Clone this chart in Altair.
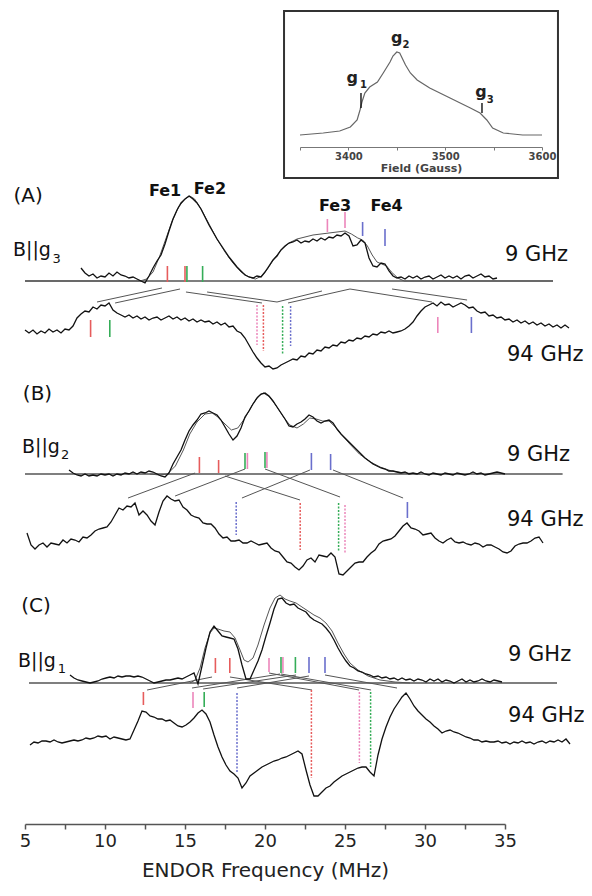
import altair as alt
import pandas as pd

# ---------------- data ----------------
# ENDOR spectra on uniform frequency grids: (start MHz, step MHz); intensities in arbitrary units
A9_GRID = (8.5, 0.25)
A9_EXP = [13, 8, 5, 7, 3, 5, 4, 8, 5, 9, 6, 5, 3, 4, 2, 0, -2, 5, 13, 20,
          26, 37, 50, 62, 71, 78, 82, 85, 82, 78, 72, 64, 56, 49, 42, 36, 30, 24, 19, 14,
          10, 6, 4, 3, 5, 4, 9, 15, 21, 25, 31, 35, 38, 39, 41, 38, 40, 39, 42, 40,
          43, 41, 44, 43, 46, 45, 48, 45, 35, 36, 41, 38, 23, 15, 14, 18, 17, 10, 5, 3,
          4, 2, 5, 3, 5, 2, 4, 5, 2, 4, 6, 3, 5, 3, 5, 2, 5, 6, 3, 5, 7, 4, 5, 2, 3]
A94_GRID = (5.0, 0.25)
A94_EXP = [0, -3, 0, -4, -1, -3, 1, -2, 0, -3, 1, 0, 4, 12, 16, 19, 18, 23, 21, 25,
           24, 27, 20, 17, 15, 13, 15, 12, 14, 11, 13, 10, 12, 13, 10, 12, 14, 11, 13, 10,
           12, 9, 11, 8, 10, 8, 9, 6, 8, 5, 7, 3, 4, -1, -3, -8, -15, -22, -28, -33,
           -37, -36, -39, -38, -35, -33, -31, -29, -30, -26, -27, -23, -24, -20, -21, -17, -18, -15, -16, -12,
           -13, -10, -11, -8, -9, -6, -7, -4, -5, -2, -3, -1, -3, -2, -1, 1, 4, 8, 14, 19,
           23, 25, 27, 24, 28, 25, 26, 23, 25, 27, 25, 22, 23, 19, 17, 18, 14, 15, 12, 13,
           10, 11, 8, 10, 7, 9, 6, 8, 5, 7, 4, 6, 3, 5, 2, 5, 2]
B9_GRID = (7.75, 0.25)
B9_EXP = [4, 1, -1, -2, 0, -2, -1, -2, 0, -1, 0, -2, 0, -1, 1, 0, 2, 0, 2, 1,
          3, 2, 0, -2, -3, 1, 10, 17, 24, 34, 43, 49, 54, 60, 61, 63, 61, 59, 54, 47,
          40, 34, 38, 46, 57, 63, 70, 76, 80, 81, 78, 73, 67, 61, 55, 48, 47, 50, 52, 55,
          59, 57, 53, 51, 53, 54, 51, 45, 40, 36, 32, 28, 24, 20, 16, 13, 10, 8, 6, 5,
          3, 3, 2, 1, 2, 0, 1, 0, 2, 0, -1, 1, 0, -1, 1, 0, -1, 1, 0, -1,
          0, 2, 0, 1, -1, 0, 1, 2, 1, 0]
B94_GRID = (5.125, 0.25)
B94_EXP = [7, -5, -9, -5, -3, -7, -3, -4, -5, 0, -3, 1, 0, -2, 3, 2, 5, 9, 11, 12,
           13, 18, 25, 32, 30, 34, 33, 37, 25, 29, 25, 19, 15, 28, 39, 44, 41, 39, 40, 33,
           30, 25, 23, 22, 17, 16, 16, 12, 6, 2, 3, -1, -1, 0, -3, -3, -1, -3, -5, -4,
           -3, -8, -11, -12, -17, -22, -23, -27, -30, -26, -20, -18, -22, -15, -16, -17, -13, -17, -34, -35,
           -31, -27, -23, -22, -22, -17, -13, -10, -4, -1, 0, 1, 4, 9, 14, 17, 12, 11, 9, 5,
           6, 7, 2, -1, -3, 0, 2, -2, -3, -2, -4, -5, -3, -4, -7, -5, -5, -7, -9, -12,
           -13, -11, -6, -4, -3, -3, -1, 2, 3, -3]
C9_GRID = (7.8125, 0.25)
C9_EXP = [8, 5, 3, 2, 1, 0, 1, 2, 4, 5, 6, 5, 7, 6, 7, 7, 6, 7, 6, 4,
          2, 0, 1, 2, 3, 3, 4, 5, 4, 6, 8, 10, -1, 17, 35, 51, 57, 52, 47, 46,
          45, 44, 34, 18, 4, 4, 13, 22, 33, 47, 60, 74, 84, 85, 80, 78, 79, 75, 73, 71,
          66, 63, 61, 59, 55, 50, 43, 35, 28, 22, 17, 15, 12, 11, 9, 8, 6, 7, 5, 6,
          4, 5, 3, 5, 3, 4, 2, 4, 3, 1, 4, 2, 4, 1, 3, 2, 0, 2, 4, 1,
          3, 1, 2, 4, 2, 1, 3, 2, 1]
C94_GRID = (5.3125, 0.25)
C94_EXP = [-5, -2, -3, -1, -1, -2, 0, -2, -3, -2, -1, 0, -1, 0, 2, 1, 2, 4, 3, 4,
           1, 3, 2, 1, 0, 1, 10, 19, 29, 28, 24, 23, 21, 21, 19, 20, 17, 14, 13, 15,
           18, 22, 27, 30, 26, 18, 5, -7, -17, -25, -31, -34, -38, -48, -43, -36, -33, -30, -27, -25,
           -23, -21, -20, -18, -17, -15, -13, -11, -14, -30, -45, -56, -56, -52, -48, -46, -42, -39, -36, -34,
           -32, -30, -28, -27, -27, -32, -36, -15, 1, 13, 23, 31, 37, 43, 47, 41, 34, 29, 25, 21,
           18, 14, 11, 7, 9, 10, 8, 7, 5, 3, 2, 0, 0, -2, -1, -2, -2, -1, -3, -2,
           -4, -2, -3, -1, -3, -2, -4, -2, -1, -3, -1, -2, 0, -2, 1, -4]

# simulated 9 GHz spectra (MHz, intensity)
SIM_A_F = [5.0, 12.2, 12.6, 13.0, 13.4, 13.8, 14.2, 14.6, 15.0, 15.3, 15.6, 16.0, 16.5, 17.0, 17.5,
           18.0, 18.5, 19.0, 19.4, 19.8, 20.2, 20.6, 21.0, 21.5, 22.0, 22.5, 23.0, 23.5, 24.0, 24.5,
           25.0, 25.4, 25.8, 26.1, 26.4, 26.7, 27.0, 27.3, 27.6, 27.9, 28.3, 28.7, 38.0]
SIM_A_I = [0, 0, 2, 9, 24, 42, 60, 74, 82, 85, 82, 72, 57, 42, 29, 18, 9, 4, 2, 5,
           13, 23, 31, 38, 42, 44, 46, 47, 48, 49, 50, 47, 43, 41, 35, 26, 19, 17, 15, 9, 3, 0, 0]
SIM_B_F = [12.8, 13.4, 13.9, 14.4, 14.9, 15.3, 15.75, 16.25, 16.7, 17.05, 17.5, 17.9, 18.3, 18.75, 19.2,
           19.6, 19.9, 20.3, 20.75, 21.2, 21.55, 22.0, 22.4, 22.8, 23.2, 23.6, 24.0, 24.4, 24.8, 25.3,
           25.9, 26.6, 27.2, 27.9, 28.75, 29.7]
SIM_B_I = [0, -1, 0, 8, 24, 40, 52, 60, 61, 57, 50, 44, 46, 56, 69, 78, 81, 77, 67, 56,
           49, 46, 50, 56, 55, 53, 53, 47, 39, 30, 20, 12, 7, 3, 1, 0]
SIM_C_F = [15.31, 15.63, 15.94, 16.25, 16.56, 16.81, 17.06, 17.44, 17.81, 18.13, 18.44, 18.69, 18.94, 19.25,
           19.56, 19.94, 20.31, 20.63, 20.94, 21.25, 21.56, 21.94, 22.31, 22.69, 23.06, 23.44, 23.81,
           24.19, 24.56, 24.94, 25.31, 25.81, 26.44, 27.19, 28.13, 29.06]
SIM_C_I = [0, 3, 15, 35, 50, 55, 54, 52, 51, 45, 33, 23, 21, 25, 38, 58, 75, 85, 88, 84,
           82, 80, 76, 72, 68, 65, 60, 52, 40, 29, 20, 13, 7, 3, 1, 0]

# inset: EPR absorption (Gauss, intensity)
EPR_FIELD = [3350, 3374, 3391, 3402, 3409, 3412, 3414, 3417, 3422, 3430, 3436, 3443, 3446, 3450,
             3453, 3459, 3464, 3471, 3484, 3505, 3526, 3536, 3543, 3549, 3560, 3580, 3600]
EPR_I = [0, 2, 4, 8, 15, 25, 33, 42, 48, 53, 62, 73, 79, 83, 82, 70, 62, 55, 47, 37,
         27, 22, 15, 7, 2, 0, 0]
G_LABELS = ["1", "2", "3"]
G_FIELD = [3404, 3450, 3537]
G_MARK_FIELD = [3413, 3538]

# predicted stick positions (MHz) and their Fe site colour
STICK_F = [13.9, 15.0, 15.12, 16.1, 23.9, 25.0, 26.1, 27.5,
           9.1, 10.3, 30.8, 32.9,
           15.9, 17.1, 18.75, 18.9, 20.0, 20.12, 22.9, 24.1,
           28.9,
           16.9, 17.8, 20.25, 21.0, 21.12, 21.9, 22.75, 23.75,
           12.4, 15.5, 16.2]
STICK_SITE = ["r", "r", "g", "g", "p", "p", "b", "b",
              "r", "g", "p", "b",
              "r", "r", "g", "p", "g", "p", "b", "b",
              "b",
              "r", "r", "p", "g", "p", "g", "b", "b",
              "r", "p", "g"]
DASH_F = [19.5, 19.9, 21.1, 21.6, 18.2, 22.2, 24.6, 25.0, 18.25, 22.9, 25.9, 26.6]
DASH_SITE = ["p", "r", "g", "b", "b", "r", "g", "p", "b", "r", "p", "g"]
# correlation lines between 9 GHz and 94 GHz positions (MHz)
LINK_F1 = [9.5, 10.63, 15.06, 16.38, 20.75, 21.44, 25.31, 27.94,
           11.44, 14.38, 17.5, 20.0, 18.56, 24.25,
           12.63, 15.44, 16.13, 17.81, 18.25, 20.25, 21.0, 23.75]
LINK_F2 = [13.56, 14.69, 19.81, 20.75, 23.56, 25.31, 30.44, 32.63,
           15.63, 18.75, 22.19, 24.69, 22.81, 28.63,
           16.69, 20.94, 21.94, 22.94, 22.75, 25.88, 26.63, 28.25]

# ---------------- layout / style ----------------
TOP = 8


def py(page_y):
    return page_y - TOP


BASE = {"A9": 281, "A94": 330, "B9": 474, "B94": 540, "C9": 683, "C94": 740, "EPR": 135}
BASELINE_SPAN = [("A9", 5.0, 38.0), ("B9", 5.0, 38.6), ("C9", 5.25, 38.25)]
STICK_SPAN = ([(266, 282)] * 4 + [(219, 232), (212, 228), (222, 236), (229, 246)]
              + [(320, 337), (320, 337), (317, 333), (317, 333)]
              + [(457, 473), (460, 473), (453, 469), (453, 469), (452, 468), (452, 468), (453, 470), (454, 470)]
              + [(502, 518)]
              + [(658, 673), (658, 673), (658, 672)] + [(657, 673)] * 5
              + [(692, 705), (692, 708), (692, 707)])
DASH_SPAN = [(305, 345), (305, 351), (306, 355), (306, 346), (502, 535), (503, 550), (503, 552), (505, 553),
             (693, 773), (690, 778), (692, 763), (692, 767)]
LINK_Y = [(302, 288), (303, 289), (292, 303), (292, 302), (302, 291), (303, 289), (289, 302), (289, 300),
          (498, 473), (496, 469), (476, 500), (469, 497), (498, 470), (470, 498),
          (690, 677), (688, 674), (689, 675), (677, 690), (688, 676), (673, 690), (674, 690), (675, 688)]
SITE_COLOR = {"r": "#e65c5c", "p": "#ec86bb", "g": "#35ad58", "b": "#6a6fcc"}
FONT = "DejaVu Sans"

# ---------------- tables ----------------
rows = []


def add_grid(name, grid, vals, kind):
    f0, df = grid
    for i, val in enumerate(vals):
        rows.append({"trace": name, "kind": kind, "f": f0 + i * df, "y": py(BASE[name]) - val, "i": i})


def add_pairs(name, fs, vals, kind):
    assert len(fs) == len(vals), name
    for i, (f, val) in enumerate(zip(fs, vals)):
        rows.append({"trace": name + kind, "kind": kind, "f": f, "y": py(BASE[name]) - val, "i": i})


add_grid("A9", A9_GRID, A9_EXP, "exp")
add_grid("A94", A94_GRID, A94_EXP, "exp")
add_grid("B9", B9_GRID, B9_EXP, "exp")
add_grid("B94", B94_GRID, B94_EXP, "exp")
add_grid("C9", C9_GRID, C9_EXP, "exp")
add_grid("C94", C94_GRID, C94_EXP, "exp")
add_pairs("A9", SIM_A_F, SIM_A_I, "sim")
add_pairs("B9", SIM_B_F, SIM_B_I, "sim")
add_pairs("C9", SIM_C_F, SIM_C_I, "sim")
spec = pd.DataFrame(rows)

base_df = pd.DataFrame([{"f1": a, "f2": b, "y": py(BASE[n])} for n, a, b in BASELINE_SPAN])
assert len(STICK_F) == len(STICK_SITE) == len(STICK_SPAN)
stick_df = pd.DataFrame({"f": STICK_F, "color": [SITE_COLOR[s] for s in STICK_SITE],
                         "top": [py(t) for t, b in STICK_SPAN], "bottom": [py(b) for t, b in STICK_SPAN]})
dash_df = pd.DataFrame({"f": DASH_F, "color": [SITE_COLOR[s] for s in DASH_SITE],
                        "top": [py(t) for t, b in DASH_SPAN], "bottom": [py(b) for t, b in DASH_SPAN]})
link_df = pd.DataFrame({"f1": LINK_F1, "f2": LINK_F2,
                        "y1": [py(a) for a, b in LINK_Y], "y2": [py(b) for a, b in LINK_Y]})

epr_df = pd.DataFrame({"field": EPR_FIELD, "y": [py(BASE["EPR"]) - v for v in EPR_I],
                       "i": list(range(len(EPR_FIELD)))})

# ---------------- scales ----------------
XS = alt.Scale(domain=[5, 35], nice=False, zero=False)
YS = alt.Scale(domain=[816, 0], nice=False, zero=False)
AX = alt.Axis(values=[5 + 2.5 * k for k in range(13)],
              labelExpr="datum.value % 5 === 0 ? datum.label : ''",
              tickSize=5, tickWidth=1.5, domainWidth=1.5, domainColor="#555", tickColor="#555",
              labelFont=FONT, labelFontSize=18, labelColor="#222", labelPadding=3,
              labelFlush=False, labelOverlap=False, labelBound=False, grid=False,
              title="ENDOR Frequency (MHz)", titleFont=FONT, titleFontSize=20,
              titleFontWeight="normal", titleColor="#222", titlePadding=10)


def X(field="f"):
    return alt.X(field, type="quantitative", scale=XS, axis=AX)


def Y(field="y"):
    return alt.Y(field, type="quantitative", scale=YS, axis=None)


exp_layer = alt.Chart(spec[spec.kind == "exp"]).mark_line(color="#111", strokeWidth=1.3).encode(
    x=X(), y=Y(), detail="trace:N", order="i:Q")
sim_layer = alt.Chart(spec[spec.kind == "sim"]).mark_line(color="#555", strokeWidth=1.0).encode(
    x=X(), y=Y(), detail="trace:N", order="i:Q")
base_layer = alt.Chart(base_df).mark_rule(color="#555", strokeWidth=1.3).encode(
    x=X("f1"), x2=alt.X2("f2"), y=Y("y"))
link_layer = alt.Chart(link_df).mark_rule(color="#555", strokeWidth=1.0).encode(
    x=X("f1"), x2=alt.X2("f2"), y=Y("y1"), y2=alt.Y2("y2"))
stick_layer = alt.Chart(stick_df).mark_rule(strokeWidth=1.6).encode(
    x=X("f"), y=Y("top"), y2=alt.Y2("bottom"), color=alt.Color("color:N", scale=None))
dash_layer = alt.Chart(dash_df).mark_rule(strokeWidth=1.5, strokeDash=[2, 1.5]).encode(
    x=X("f"), y=Y("top"), y2=alt.Y2("bottom"), color=alt.Color("color:N", scale=None))

# text annotations (page pixel -> MHz via f = 5 + (px-25)/16)
panel_df = pd.DataFrame({"f": [5.19, 5.78, 5.69], "y": [py(196), py(394), py(606)],
                         "t": ["(A)", "(B)", "(C)"]})
panel_txt = alt.Chart(panel_df).mark_text(font=FONT, fontSize=20, align="center", baseline="middle",
                                          color="#111").encode(x=X(), y=Y(), text="t:N")
bg_df = pd.DataFrame({"f": [4.25, 4.81, 4.56], "y": [py(256), py(453), py(667)], "t": ["B||g"] * 3})
bg_txt = alt.Chart(bg_df).mark_text(font=FONT, fontSize=19, align="left", baseline="alphabetic",
                                    color="#111").encode(x=X(), y=Y(), text="t:N")
bgs_df = pd.DataFrame({"f": [6.72, 7.25, 7.05], "y": [py(263), py(459), py(673)], "t": ["3", "2", "1"]})
bgs_txt = alt.Chart(bgs_df).mark_text(font=FONT, fontSize=13, align="left", baseline="alphabetic",
                                      color="#111").encode(x=X(), y=Y(), text="t:N")
ghz_df = pd.DataFrame({"f": [35.0, 35.125, 35.125, 35.125, 35.19, 35.19],
                       "y": [py(255), py(355), py(455), py(520), py(655), py(716)],
                       "t": ["9 GHz", "94 GHz", "9 GHz", "94 GHz", "9 GHz", "94 GHz"]})
ghz_txt = alt.Chart(ghz_df).mark_text(font=FONT, fontSize=21, align="left", baseline="middle",
                                      color="#111").encode(x=X(), y=Y(), text="t:N")
fe_df = pd.DataFrame({"f": [13.75, 16.56, 24.375, 27.6], "y": [py(190.5), py(189), py(206), py(206)],
                      "t": ["Fe1", "Fe2", "Fe3", "Fe4"]})
fe_txt = alt.Chart(fe_df).mark_text(font=FONT, fontSize=16, fontWeight="bold", align="center",
                                    baseline="middle", color="#111").encode(x=X(), y=Y(), text="t:N")

main = alt.layer(base_layer, link_layer, sim_layer, exp_layer, stick_layer, dash_layer,
                 panel_txt, bg_txt, bgs_txt, ghz_txt, fe_txt)

# ---------------- inset ----------------
IS = alt.Scale(domain=[3350, 3600], range=[275, 517], nice=False, zero=False)
IAX = alt.Axis(orient="bottom", offset=-677, values=[3350, 3400, 3450, 3500, 3550, 3600],
               labelExpr="datum.value % 100 === 0 && datum.value > 3350 ? datum.value : ''",
               tickSize=3, domainColor="#777", tickColor="#777", grid=False,
               labelFont=FONT, labelFontSize=10, labelFontWeight="bold", labelColor="#444",
               labelPadding=1, labelFlush=False, labelOverlap=False, labelBound=False,
               title="Field (Gauss)", titleFont=FONT, titleFontSize=11, titleFontWeight="bold",
               titleColor="#444", titlePadding=1)


def XI(field):
    return alt.X(field, type="quantitative", scale=IS, axis=IAX)


box_df = pd.DataFrame({"x1": [3333.5], "x2": [3616.5], "y1": [py(11)], "y2": [py(178)]})
box_layer = alt.Chart(box_df).mark_rect(fill="white", fillOpacity=0, stroke="#333", strokeWidth=2).encode(
    x=XI("x1"), x2=alt.X2("x2"), y=Y("y1"), y2=alt.Y2("y2"))
epr_layer = alt.Chart(epr_df).mark_line(color="#666", strokeWidth=1.2).encode(
    x=XI("field"), y=Y("y"), order="i:Q")
gmark_df = pd.DataFrame({"field": G_MARK_FIELD, "top": [py(93), py(103)], "bottom": [py(108), py(113)]})
gmark_layer = alt.Chart(gmark_df).mark_rule(color="#111", strokeWidth=1.4).encode(
    x=XI("field"), y=Y("top"), y2=alt.Y2("bottom"))
g_df = pd.DataFrame({"field": G_FIELD, "y": [py(83), py(43), py(97)], "t": ["g"] * 3})
g_txt = alt.Chart(g_df).mark_text(font=FONT, fontSize=16, fontWeight="bold", align="center",
                                  baseline="alphabetic", color="#222").encode(x=XI("field"), y=Y(), text="t:N")
gs_df = pd.DataFrame({"field": [3412, 3456, 3543], "y": [py(88), py(48), py(103)], "t": G_LABELS})
gs_txt = alt.Chart(gs_df).mark_text(font=FONT, fontSize=10, fontWeight="bold", align="left",
                                    baseline="alphabetic", color="#222").encode(x=XI("field"), y=Y(), text="t:N")
inset = alt.layer(box_layer, epr_layer, gmark_layer, g_txt, gs_txt)

chart = alt.layer(main, inset).resolve_scale(x="independent").properties(
    width=480, height=816,
    autosize=alt.AutoSizeParams(type="none"),
    padding={"left": 17, "right": 79, "top": 0, "bottom": 64},
).configure_view(stroke=None)

chart.save("out.html", embed_options={"renderer": "svg", "actions": False})
